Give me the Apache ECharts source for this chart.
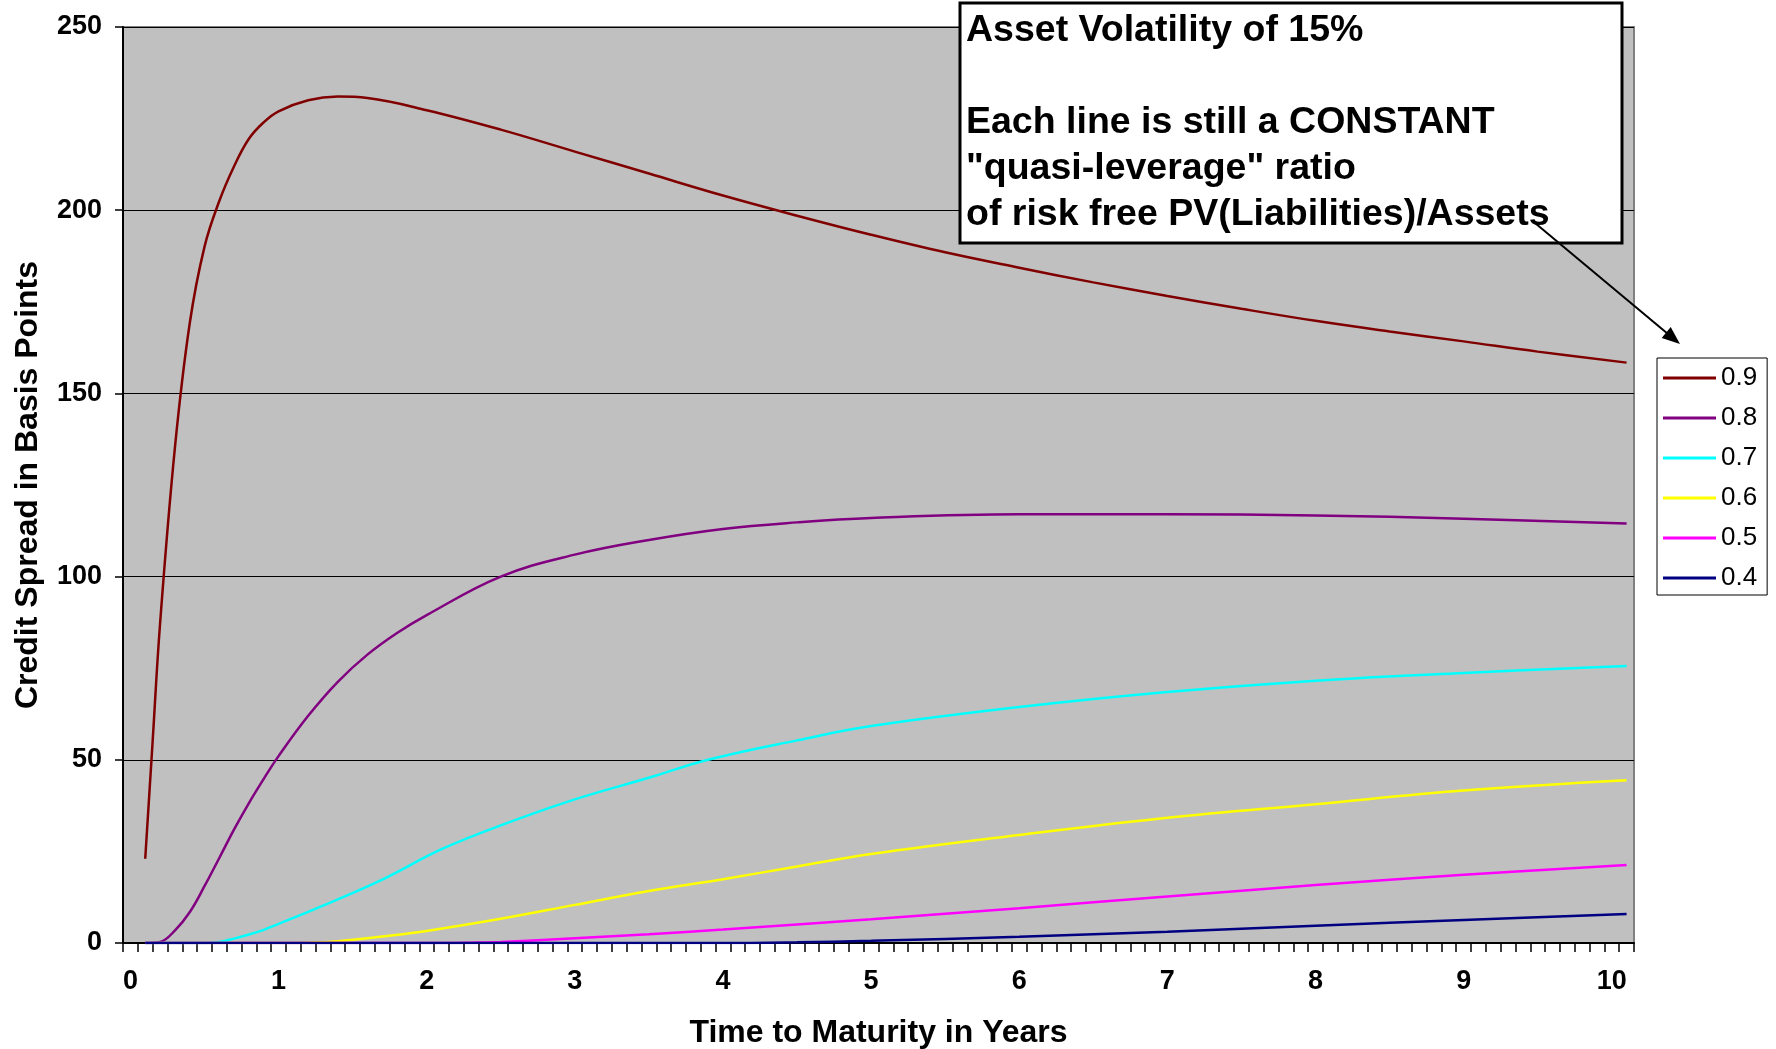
<!DOCTYPE html>
<html>
<head>
<meta charset="utf-8">
<title>Credit Spread vs Time to Maturity</title>
<script src="https://cdn.jsdelivr.net/npm/echarts@6/dist/echarts.min.js"></script>
<style>
  html, body { margin: 0; padding: 0; background: #fff; }
  #chart { width: 1776px; height: 1049px; }
</style>
</head>
<body>
<div id="chart"></div>
<script>
// x categories (0.1 yr steps, as in the spreadsheet) - ticks sit between them
var xCategories = ['0.0','0.1','0.2','0.3','0.4','0.5','0.6','0.7','0.8','0.9',
  '1.0','1.1','1.2','1.3','1.4','1.5','1.6','1.7','1.8','1.9',
  '2.0','2.1','2.2','2.3','2.4','2.5','2.6','2.7','2.8','2.9',
  '3.0','3.1','3.2','3.3','3.4','3.5','3.6','3.7','3.8','3.9',
  '4.0','4.1','4.2','4.3','4.4','4.5','4.6','4.7','4.8','4.9',
  '5.0','5.1','5.2','5.3','5.4','5.5','5.6','5.7','5.8','5.9',
  '6.0','6.1','6.2','6.3','6.4','6.5','6.6','6.7','6.8','6.9',
  '7.0','7.1','7.2','7.3','7.4','7.5','7.6','7.7','7.8','7.9',
  '8.0','8.1','8.2','8.3','8.4','8.5','8.6','8.7','8.8','8.9',
  '9.0','9.1','9.2','9.3','9.4','9.5','9.6','9.7','9.8','9.9',
  '10.0','10.1']
var yTicks = [0, 50, 100, 150, 200, 250]
var seriesNames = ['0.9', '0.8', '0.7', '0.6', '0.5', '0.4']
var seriesColors = ['#800000', '#800080', '#00FFFF', '#FFFF00', '#FF00FF', '#000080']

// [years, basis points]
var s09 = [[0.1,23],[0.15,55],[0.2,87],[0.3,135],[0.4,169],[0.5,190],[0.6,202.5],[0.7,212],[0.8,219.5],
  [0.9,224],[1.0,227],[1.2,230],[1.4,231],[1.6,230.6],[2.0,227.3],[2.5,222],[3.0,216],[3.5,210],
  [4.0,204],[4.5,198.5],[5.0,193.3],[5.5,188.5],[6.0,184.3],[6.5,180.3],[7.0,176.6],[7.5,173.1],
  [8.0,169.8],[8.5,166.9],[9.0,164.2],[9.5,161.4],[10.1,158.4]]
var s08 = [[0.1,0],[0.2,0.3],[0.3,3.4],[0.4,8.4],[0.5,15.5],[0.6,23.2],[0.7,31],[0.8,38.2],[0.9,44.8],
  [1.0,51],[1.2,62],[1.4,71.3],[1.6,78.7],[1.8,84.6],[2.0,89.5],[2.5,100],[3.0,106],[3.5,110],[4.0,113],
  [4.5,114.8],[5.0,116],[6.0,117],[7.0,117],[8.0,116.7],[9.0,115.8],[10.1,114.5]]
var s07 = [[0.1,0],[0.5,0],[0.6,0.3],[0.7,1.2],[0.8,2.3],[0.9,3.6],[1.0,5.2],[1.3,10.2],[1.7,17.3],
  [2.1,25.6],[2.5,32.1],[3.0,39.2],[3.5,45.1],[3.9,50],[4.5,55.3],[5.0,59.2],[6.0,64.4],[7.0,68.5],
  [8.0,71.6],[9.0,73.7],[10.1,75.6]]
var s06 = [[0.1,0],[1.1,0],[1.2,0.1],[1.4,0.5],[1.7,1.8],[2.0,3.3],[2.5,6.6],[3.0,10.4],[3.5,14.2],
  [4.0,17.4],[4.5,20.9],[5.0,24.3],[6.0,29.5],[7.0,34.2],[8.0,37.9],[9.0,41.6],[10.1,44.4]]
var s05 = [[0.1,0],[2.1,0],[2.3,0.1],[2.5,0.3],[3.0,1.3],[3.5,2.4],[4.0,3.7],[5.0,6.5],[6.0,9.5],
  [7.0,12.7],[8.0,15.8],[9.0,18.6],[10.1,21.3]]
var s04 = [[0.1,0],[4.0,0],[4.5,0.2],[5.0,0.6],[6.0,1.7],[7.0,3.1],[8.0,4.7],[9.0,6.3],[10.1,7.9]]

var noteLines = ['Asset Volatility of 15%', '', 'Each line is still a CONSTANT',
  '"quasi-leverage" ratio', 'of risk free PV(Liabilities)/Assets']

var font = '"Liberation Sans", Arial, sans-serif'
var chart = echarts.init(document.getElementById('chart'), null, { renderer: 'canvas' })

var allData = [s09, s08, s07, s06, s05, s04]
var series = allData.map(function (d, i) {
  return {
    name: seriesNames[i],
    type: 'line',
    xAxisIndex: 0,
    data: d,
    symbol: 'none',
    smooth: 0.4,
    lineStyle: { color: seriesColors[i], width: 2.5 },
    itemStyle: { color: seriesColors[i] }
  }
})

var option = {
  animation: false,
  backgroundColor: '#fff',
  textStyle: { fontFamily: font },
  grid: {
    left: 123, top: 27, width: 1511, height: 916,
    outerBoundsMode: 'none',
    show: true, backgroundColor: '#C0C0C0', borderColor: '#808080', borderWidth: 2
  },
  legend: {
    data: seriesNames,
    orient: 'vertical',
    left: 1657, top: 358,
    padding: [7, 10, 4, 6],
    itemGap: 14,
    itemWidth: 53, itemHeight: 3,
    icon: 'rect',
    backgroundColor: '#fff',
    borderColor: '#000', borderWidth: 1,
    textStyle: { fontSize: 26, color: '#000', fontFamily: font }
  },
  xAxis: [
    { type: 'value', min: -0.05, max: 10.15, show: false },
    {
      type: 'category',
      data: xCategories,
      boundaryGap: true,
      position: 'bottom',
      name: 'Time to Maturity in Years',
      nameLocation: 'middle',
      nameGap: 74,
      nameTextStyle: { fontSize: 32, fontWeight: 'bold', color: '#000', fontFamily: font },
      axisLine: { show: true, onZero: false, lineStyle: { color: '#000', width: 2 } },
      axisTick: { show: true, interval: 0, length: 9, lineStyle: { color: '#000', width: 1.5 } },
      axisLabel: {
        interval: 9,
        margin: 25,
        fontSize: 27, fontWeight: 'bold', color: '#000', fontFamily: font,
        formatter: function (v) { return String(parseFloat(v)) }
      },
      splitLine: { show: false }
    }
  ],
  yAxis: {
    type: 'value',
    min: yTicks[0], max: yTicks[yTicks.length - 1], interval: 50,
    name: 'Credit Spread in Basis Points',
    nameLocation: 'middle',
    nameGap: 79,
    nameTextStyle: { fontSize: 32, fontWeight: 'bold', color: '#000', fontFamily: font },
    axisLine: { show: true, onZero: false, lineStyle: { color: '#000', width: 2 } },
    axisTick: { show: true, length: 8, lineStyle: { color: '#000', width: 1.5 } },
    axisLabel: { margin: 21, fontSize: 27, fontWeight: 'bold', color: '#000', fontFamily: font },
    splitLine: { show: true, lineStyle: { color: '#000', width: 1.2 } }
  },
  series: series,
  graphic: [
    {
      type: 'rect', z: 100,
      shape: { x: 960, y: 3, width: 662, height: 240 },
      style: { fill: '#fff', stroke: '#000', lineWidth: 3 }
    },
    {
      type: 'text', z: 101,
      x: 966, y: 8,
      style: {
        text: noteLines.join('\n'),
        fontSize: 37.5, fontWeight: 'bold', fontFamily: font,
        lineHeight: 46, fill: '#000'
      }
    },
    {
      type: 'line', z: 101,
      shape: { x1: 1535, y1: 223, x2: 1668, y2: 334 },
      style: { stroke: '#000', lineWidth: 2 }
    },
    {
      type: 'polygon', z: 101,
      shape: { points: [[1680, 344], [1661.7, 337.9], [1670.7, 327.1]] },
      style: { fill: '#000' }
    }
  ]
}
chart.setOption(option)
</script>
</body>
</html>
